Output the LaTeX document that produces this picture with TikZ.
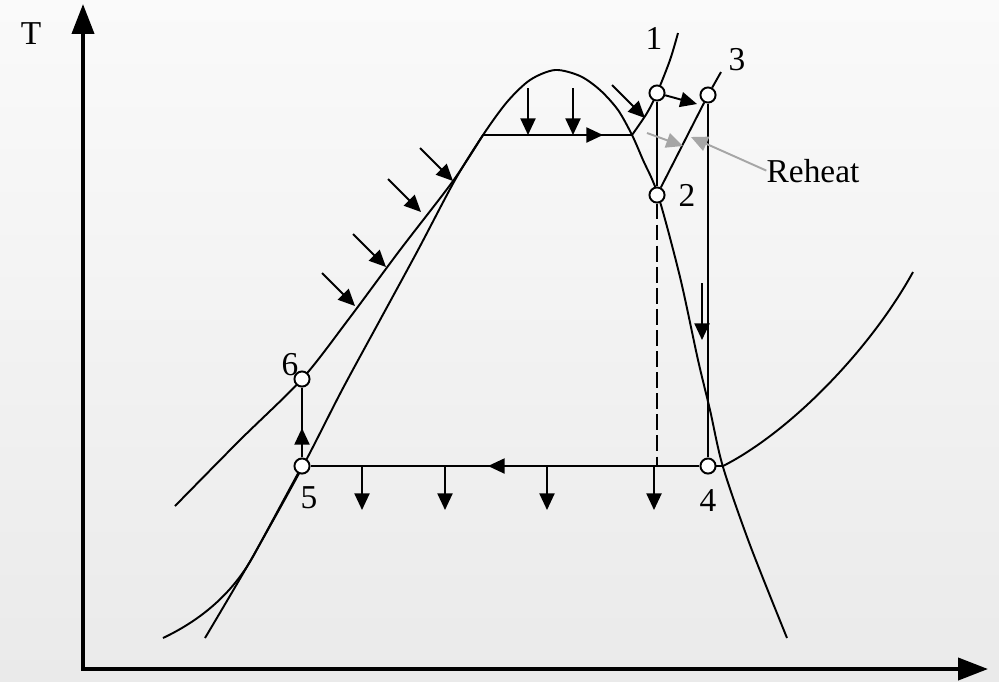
\documentclass[tikz,border=0pt]{standalone}
\usepackage{fontspec}
\setmainfont{Liberation Serif}
\usetikzlibrary{arrows.meta}
\definecolor{bgtop}{RGB}{250,250,250}
\definecolor{bgbot}{RGB}{234,234,234}
\definecolor{notegray}{RGB}{166,166,166}

\begin{document}
\begin{tikzpicture}[x=0.02cm, y=-0.02cm,
  curve/.style={line width=1.1pt},
  flow/.style={line width=1.1pt, -{Triangle[length=9.5pt,width=8.6pt]}},
  note/.style={line width=1.1pt, draw=notegray, -{Triangle[length=9.5pt,width=8.6pt,fill=notegray]}},
  state/.style={circle, draw, line width=1.1pt, fill=white, minimum size=8.6pt, inner sep=0pt},
  num/.style={anchor=base, inner sep=0pt, font=\fontsize{19}{22}\selectfont},
  axis/.style={line width=2.2pt, {Triangle[length=17pt,width=12.5pt]}-{Triangle[length=17pt,width=12.5pt]}}]
% background
\shade[top color=bgtop, bottom color=bgbot] (0,0) rectangle (999,681);
\useasboundingbox (0,0) rectangle (999,681);

% axes
\coordinate (O) at (83,669);
\draw[axis] (83,4) -- (O) -- (988,669);
\node[num] (lT) at (31,44) {T};

% saturation dome
\draw[curve] plot[smooth] coordinates {(205,638) (252,558) (303,466) (342,390) (380,320) (418,250) (455,180) (483,135) (507,102) (530,80) (555,70) (580,76) (600,90) (618,110) (632,135) (643,160) (658,195) (680,277) (698,360) (710,410) (723,467) (750,545) (787,638)};

% high pressure line
\draw[curve] plot[smooth] coordinates {(175,506) (240,440) (302,379) (348,320) (400,250) (453,181) (483,135)} -- plot[smooth] coordinates {(632,135) (647,113) (657,93) (670,60) (678,33)};

% low pressure line
\draw[curve] (163,638) .. controls (205,618) and (235,590) .. (255,553) -- (302,466);
\draw[curve] (708,466) -- (723,466) .. controls (790,432) and (870,350) .. (913,272);

% states
\node[state] (p1) at (657,93) {};
\node[state] (p2) at (657,195) {};
\node[state] (p3) at (708,95) {};
\node[state] (p4) at (708,466) {};
\node[state] (p5) at (302,466) {};
\node[state] (p6) at (302,379) {};

% cycle
\draw[curve] (p5) -- (p6);
\draw[curve] (p1) -- (p2);
\draw[curve] (p2) -- (p3);
\draw[curve] (p3) -- ++(13,-23);
\draw[curve] (p3) -- (p4);
\draw[curve] (p4) -- (p5);
\draw[curve, dash pattern=on 9pt off 3pt] (p2) -- (p2 |- p4);

% process arrows
\draw[flow] (p5) -- (302,428);
\draw[flow] (p4) -- (488,466);
\draw[flow] (p1) -- (697,104);
\draw[flow] (702,283) -- (702,340);
\draw[flow] (483,135) -- (603,135);

% heat in / heat out
\foreach \x in {528,573}
  \draw[flow] (\x,88) -- (\x,135);
\foreach \x in {362,445,547,654}
  \draw[flow] (\x,466) -- (\x,510);
\foreach \x/\y in {322/273,353/234,388/179,420/148,612/85}
  \draw[flow] (\x,\y) -- ++(33,33);

% reheat
\node[num] (reheat) at (813,182) {Reheat};
\draw[note] (647,133) -- (683,146);
\draw[note] (reheat.west) -- (691,137);

% labels
\node[num] (l1) at (654,49) {1};
\node[num] (l2) at (687,206) {2};
\node[num] (l3) at (737,70) {3};
\node[num] (l4) at (708,511) {4};
\node[num] (l5) at (309,508) {5};
\node[num] (l6) at (290,375) {6};
\end{tikzpicture}
\end{document}
